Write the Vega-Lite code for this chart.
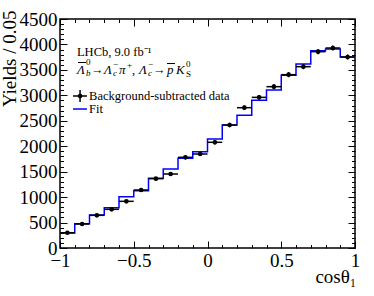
{
  "$schema": "https://vega.github.io/schema/vega-lite/v6.json",
  "width": 295,
  "height": 229,
  "autosize": "none",
  "padding": {"left": 60, "top": 19, "right": 19, "bottom": 48},
  "config": {
    "view": {"stroke": "black", "strokeWidth": 1.5},
    "font": "Liberation Serif",
    "axis": {
      "domain": false, "grid": false, "tickColor": "black", "tickWidth": 1,
      "labelColor": "black", "titleColor": "black",
      "labelFont": "Liberation Serif", "titleFont": "Liberation Serif",
      "labelFontSize": 19, "titleFontSize": 19, "titleFontWeight": "normal",
      "labelFlush": false, "labelOverlap": false
    },
    "text": {"font": "Liberation Serif", "color": "black", "align": "left", "baseline": "alphabetic", "fontSize": 12.5}
  },
  "datasets": {
    "one": [{"k": 1}],
    "bins": [
      {"x": -0.95, "lo": -1.0, "hi": -0.9, "y": 300, "ylo": 285, "yhi": 315},
      {"x": -0.85, "lo": -0.9, "hi": -0.8, "y": 472, "ylo": 452, "yhi": 492},
      {"x": -0.75, "lo": -0.8, "hi": -0.7, "y": 642, "ylo": 617, "yhi": 667},
      {"x": -0.65, "lo": -0.7, "hi": -0.6, "y": 760, "ylo": 735, "yhi": 785},
      {"x": -0.55, "lo": -0.6, "hi": -0.5, "y": 917, "ylo": 887, "yhi": 947},
      {"x": -0.45, "lo": -0.5, "hi": -0.4, "y": 1140, "ylo": 1110, "yhi": 1170},
      {"x": -0.35, "lo": -0.4, "hi": -0.3, "y": 1362, "ylo": 1327, "yhi": 1397},
      {"x": -0.25, "lo": -0.3, "hi": -0.2, "y": 1454, "ylo": 1419, "yhi": 1489},
      {"x": -0.15, "lo": -0.2, "hi": -0.1, "y": 1782, "ylo": 1742, "yhi": 1822},
      {"x": -0.05, "lo": -0.1, "hi": 0.0, "y": 1847, "ylo": 1807, "yhi": 1887},
      {"x": 0.05, "lo": 0.0, "hi": 0.1, "y": 2077, "ylo": 2037, "yhi": 2117},
      {"x": 0.15, "lo": 0.1, "hi": 0.2, "y": 2417, "ylo": 2372, "yhi": 2462},
      {"x": 0.25, "lo": 0.2, "hi": 0.3, "y": 2757, "ylo": 2712, "yhi": 2802},
      {"x": 0.35, "lo": 0.3, "hi": 0.4, "y": 2960, "ylo": 2915, "yhi": 3005},
      {"x": 0.45, "lo": 0.4, "hi": 0.5, "y": 3170, "ylo": 3120, "yhi": 3220},
      {"x": 0.55, "lo": 0.5, "hi": 0.6, "y": 3406, "ylo": 3356, "yhi": 3456},
      {"x": 0.65, "lo": 0.6, "hi": 0.7, "y": 3563, "ylo": 3513, "yhi": 3613},
      {"x": 0.75, "lo": 0.7, "hi": 0.8, "y": 3858, "ylo": 3808, "yhi": 3908},
      {"x": 0.85, "lo": 0.8, "hi": 0.9, "y": 3930, "ylo": 3880, "yhi": 3980},
      {"x": 0.95, "lo": 0.9, "hi": 1.0, "y": 3753, "ylo": 3703, "yhi": 3803}
    ],
    "fit": [
      {"edge": -1.0, "fit": 295}, {"edge": -0.9, "fit": 478}, {"edge": -0.8, "fit": 650},
      {"edge": -0.7, "fit": 793}, {"edge": -0.6, "fit": 1008}, {"edge": -0.5, "fit": 1126},
      {"edge": -0.4, "fit": 1369}, {"edge": -0.3, "fit": 1552}, {"edge": -0.2, "fit": 1762},
      {"edge": -0.1, "fit": 1892}, {"edge": 0.0, "fit": 2142}, {"edge": 0.1, "fit": 2417},
      {"edge": 0.2, "fit": 2607}, {"edge": 0.3, "fit": 2902}, {"edge": 0.4, "fit": 3104},
      {"edge": 0.5, "fit": 3393}, {"edge": 0.6, "fit": 3616}, {"edge": 0.7, "fit": 3877},
      {"edge": 0.8, "fit": 3910}, {"edge": 0.9, "fit": 3753}, {"edge": 1.0, "fit": 3753}
    ]
  },
  "resolve": {"axis": {"x": "independent", "y": "independent"}},
  "layer": [
    {
      "data": {"name": "fit"},
      "mark": {"type": "line", "interpolate": "step-after", "color": "#0000ff", "strokeWidth": 1.5},
      "encoding": {
        "x": {"field": "edge", "type": "quantitative",
              "scale": {"domain": [-1, 1], "nice": false, "zero": false},
              "axis": {"orient": "bottom", "values": [-1, -0.5, 0, 0.5, 1], "format": "~g", "ticks": false,
                       "labelPadding": 3, "title": "cosθ₁", "titleAnchor": "end", "titleAlign": "right",
                       "titleBaseline": "alphabetic", "titleX": 296, "titleY": 34}},
        "y": {"field": "fit", "type": "quantitative",
              "scale": {"domain": [0, 4500], "nice": false},
              "axis": {"orient": "left", "values": [0, 500, 1000, 1500, 2000, 2500, 3000, 3500, 4000, 4500],
                       "format": "d", "ticks": false, "labelPadding": 3, "title": "Yields / 0.05",
                       "titleAngle": 270, "titleAlign": "right", "titleBaseline": "alphabetic",
                       "titleAnchor": "end", "titleX": -45, "titleY": -9}}
      }
    },
    {
      "data": {"name": "bins"},
      "mark": {"type": "rule", "color": "black", "strokeWidth": 1.5},
      "encoding": {
        "x": {"field": "lo", "type": "quantitative",
              "axis": {"orient": "bottom", "values": [-1, -0.5, 0, 0.5, 1], "offset": -7, "tickSize": 7,
                       "labels": false, "title": null}},
        "x2": {"field": "hi"},
        "y": {"field": "y", "type": "quantitative",
              "axis": {"orient": "left", "values": [0, 500, 1000, 1500, 2000, 2500, 3000, 3500, 4000, 4500],
                       "offset": -7, "tickSize": 7, "labels": false, "title": null}}
      }
    },
    {
      "data": {"name": "bins"},
      "mark": {"type": "rule", "color": "black", "strokeWidth": 1.5},
      "encoding": {
        "x": {"field": "x", "type": "quantitative",
              "axis": {"orient": "bottom", "values": [-0.9, -0.8, -0.7, -0.6, -0.4, -0.3, -0.2, -0.1, 0.1, 0.2, 0.3, 0.4, 0.6, 0.7, 0.8, 0.9],
                       "offset": -3.5, "tickSize": 3.5, "labels": false, "title": null}},
        "y": {"field": "ylo", "type": "quantitative",
              "axis": {"orient": "left", "values": [100, 200, 300, 400, 600, 700, 800, 900, 1100, 1200, 1300, 1400, 1600, 1700, 1800, 1900, 2100, 2200, 2300, 2400, 2600, 2700, 2800, 2900, 3100, 3200, 3300, 3400, 3600, 3700, 3800, 3900, 4100, 4200, 4300, 4400],
                       "offset": -3.5, "tickSize": 3.5, "labels": false, "title": null}},
        "y2": {"field": "yhi"}
      }
    },
    {
      "data": {"name": "bins"},
      "mark": {"type": "circle", "color": "black", "opacity": 1, "size": 22},
      "encoding": {
        "x": {"field": "x", "type": "quantitative",
              "axis": {"orient": "top", "values": [-1, -0.5, 0, 0.5, 1], "offset": -7, "tickSize": 7,
                       "labels": false, "title": null}},
        "y": {"field": "y", "type": "quantitative",
              "axis": {"orient": "right", "values": [0, 500, 1000, 1500, 2000, 2500, 3000, 3500, 4000, 4500],
                       "offset": -7, "tickSize": 7, "labels": false, "title": null}}
      }
    },
    {
      "data": {"name": "one"},
      "mark": {"type": "rule", "color": "black", "strokeWidth": 1.5},
      "encoding": {"x": {"datum": -0.912, "type": "quantitative",
                         "axis": {"orient": "top", "values": [-0.9, -0.8, -0.7, -0.6, -0.4, -0.3, -0.2, -0.1, 0.1, 0.2, 0.3, 0.4, 0.6, 0.7, 0.8, 0.9],
                                  "offset": -3.5, "tickSize": 3.5, "labels": false, "title": null}},
                   "x2": {"datum": -0.817},
                   "y": {"datum": 2987, "type": "quantitative",
                         "axis": {"orient": "right", "values": [100, 200, 300, 400, 600, 700, 800, 900, 1100, 1200, 1300, 1400, 1600, 1700, 1800, 1900, 2100, 2200, 2300, 2400, 2600, 2700, 2800, 2900, 3100, 3200, 3300, 3400, 3600, 3700, 3800, 3900, 4100, 4200, 4300, 4400],
                                  "offset": -3.5, "tickSize": 3.5, "labels": false, "title": null}}}
    },
    {
      "data": {"name": "one"},
      "mark": {"type": "rule", "color": "black", "strokeWidth": 1.5},
      "encoding": {"x": {"datum": -0.864, "type": "quantitative", "axis": null},
                   "y": {"datum": 2870, "type": "quantitative", "axis": null}, "y2": {"datum": 3104}}
    },
    {
      "data": {"name": "one"},
      "mark": {"type": "circle", "color": "black", "opacity": 1, "size": 22},
      "encoding": {"x": {"datum": -0.864, "type": "quantitative", "axis": null}, "y": {"datum": 2987, "type": "quantitative", "axis": null}}
    },
    {
      "data": {"name": "one"},
      "mark": {"type": "text", "text": "LHCb, 9.0 fb⁻¹"},
      "encoding": {"x": {"datum": -0.885, "type": "quantitative", "axis": null}, "y": {"datum": 3773, "type": "quantitative", "axis": null}}
    },
    {
      "data": {"name": "one"},
      "mark": {"type": "text", "text": "Λ", "fontStyle": "italic", "fontSize": 13, "dx": 0},
      "encoding": {"x": {"datum": -0.885, "type": "quantitative", "axis": null}, "y": {"datum": 3429, "type": "quantitative", "axis": null}}
    },
    {
      "data": {"name": "one"},
      "mark": {"type": "rule", "color": "black", "strokeWidth": 1},
      "encoding": {"x": {"datum": -0.878, "type": "quantitative", "axis": null}, "x2": {"datum": -0.8237},
                   "y": {"datum": 3645, "type": "quantitative", "axis": null}}
    },
    {
      "data": {"name": "one"},
      "mark": {"type": "text", "text": "0", "fontSize": 9, "dx": 9, "dy": -9},
      "encoding": {"x": {"datum": -0.885, "type": "quantitative", "axis": null}, "y": {"datum": 3429, "type": "quantitative", "axis": null}}
    },
    {
      "data": {"name": "one"},
      "mark": {"type": "text", "text": "b", "fontStyle": "italic", "fontSize": 9, "dx": 9, "dy": 2.5},
      "encoding": {"x": {"datum": -0.885, "type": "quantitative", "axis": null}, "y": {"datum": 3429, "type": "quantitative", "axis": null}}
    },
    {
      "data": {"name": "one"},
      "mark": {"type": "text", "text": "→", "dx": 14},
      "encoding": {"x": {"datum": -0.885, "type": "quantitative", "axis": null}, "y": {"datum": 3429, "type": "quantitative", "axis": null}}
    },
    {
      "data": {"name": "one"},
      "mark": {"type": "text", "text": "Λ", "fontStyle": "italic", "fontSize": 13, "dx": 27},
      "encoding": {"x": {"datum": -0.885, "type": "quantitative", "axis": null}, "y": {"datum": 3429, "type": "quantitative", "axis": null}}
    },
    {
      "data": {"name": "one"},
      "mark": {"type": "text", "text": "−", "fontSize": 9, "dx": 36, "dy": -7},
      "encoding": {"x": {"datum": -0.885, "type": "quantitative", "axis": null}, "y": {"datum": 3429, "type": "quantitative", "axis": null}}
    },
    {
      "data": {"name": "one"},
      "mark": {"type": "text", "text": "c", "fontStyle": "italic", "fontSize": 9, "dx": 36, "dy": 2.5},
      "encoding": {"x": {"datum": -0.885, "type": "quantitative", "axis": null}, "y": {"datum": 3429, "type": "quantitative", "axis": null}}
    },
    {
      "data": {"name": "one"},
      "mark": {"type": "text", "text": "π", "fontStyle": "italic", "fontSize": 13, "dx": 42},
      "encoding": {"x": {"datum": -0.885, "type": "quantitative", "axis": null}, "y": {"datum": 3429, "type": "quantitative", "axis": null}}
    },
    {
      "data": {"name": "one"},
      "mark": {"type": "text", "text": "+", "fontSize": 9, "dx": 50, "dy": -6},
      "encoding": {"x": {"datum": -0.885, "type": "quantitative", "axis": null}, "y": {"datum": 3429, "type": "quantitative", "axis": null}}
    },
    {
      "data": {"name": "one"},
      "mark": {"type": "text", "text": ",", "dx": 55},
      "encoding": {"x": {"datum": -0.885, "type": "quantitative", "axis": null}, "y": {"datum": 3429, "type": "quantitative", "axis": null}}
    },
    {
      "data": {"name": "one"},
      "mark": {"type": "text", "text": "Λ", "fontStyle": "italic", "fontSize": 13, "dx": 62},
      "encoding": {"x": {"datum": -0.885, "type": "quantitative", "axis": null}, "y": {"datum": 3429, "type": "quantitative", "axis": null}}
    },
    {
      "data": {"name": "one"},
      "mark": {"type": "text", "text": "−", "fontSize": 9, "dx": 71, "dy": -7},
      "encoding": {"x": {"datum": -0.885, "type": "quantitative", "axis": null}, "y": {"datum": 3429, "type": "quantitative", "axis": null}}
    },
    {
      "data": {"name": "one"},
      "mark": {"type": "text", "text": "c", "fontStyle": "italic", "fontSize": 9, "dx": 71, "dy": 2.5},
      "encoding": {"x": {"datum": -0.885, "type": "quantitative", "axis": null}, "y": {"datum": 3429, "type": "quantitative", "axis": null}}
    },
    {
      "data": {"name": "one"},
      "mark": {"type": "text", "text": "→", "dx": 76},
      "encoding": {"x": {"datum": -0.885, "type": "quantitative", "axis": null}, "y": {"datum": 3429, "type": "quantitative", "axis": null}}
    },
    {
      "data": {"name": "one"},
      "mark": {"type": "text", "text": "p", "fontStyle": "italic", "fontSize": 13, "dx": 90},
      "encoding": {"x": {"datum": -0.885, "type": "quantitative", "axis": null}, "y": {"datum": 3429, "type": "quantitative", "axis": null}}
    },
    {
      "data": {"name": "one"},
      "mark": {"type": "rule", "color": "black", "strokeWidth": 1},
      "encoding": {"x": {"datum": -0.2746, "type": "quantitative", "axis": null}, "x2": {"datum": -0.2203},
                   "y": {"datum": 3625, "type": "quantitative", "axis": null}}
    },
    {
      "data": {"name": "one"},
      "mark": {"type": "text", "text": "K", "fontStyle": "italic", "fontSize": 13, "dx": 99},
      "encoding": {"x": {"datum": -0.885, "type": "quantitative", "axis": null}, "y": {"datum": 3429, "type": "quantitative", "axis": null}}
    },
    {
      "data": {"name": "one"},
      "mark": {"type": "text", "text": "0", "fontSize": 9, "dx": 109, "dy": -7},
      "encoding": {"x": {"datum": -0.885, "type": "quantitative", "axis": null}, "y": {"datum": 3429, "type": "quantitative", "axis": null}}
    },
    {
      "data": {"name": "one"},
      "mark": {"type": "text", "text": "S", "fontSize": 9, "dx": 109, "dy": 3},
      "encoding": {"x": {"datum": -0.885, "type": "quantitative", "axis": null}, "y": {"datum": 3429, "type": "quantitative", "axis": null}}
    },
    {
      "data": {"name": "one"},
      "mark": {"type": "text", "text": "Background-subtracted data"},
      "encoding": {"x": {"datum": -0.803, "type": "quantitative", "axis": null}, "y": {"datum": 2909, "type": "quantitative", "axis": null}}
    },
    {
      "data": {"name": "one"},
      "mark": {"type": "rule", "color": "#0000ff", "strokeWidth": 1.5},
      "encoding": {"x": {"datum": -0.912, "type": "quantitative", "axis": null}, "x2": {"datum": -0.817},
                   "y": {"datum": 2731, "type": "quantitative", "axis": null}}
    },
    {
      "data": {"name": "one"},
      "mark": {"type": "text", "text": "Fit"},
      "encoding": {"x": {"datum": -0.803, "type": "quantitative", "axis": null}, "y": {"datum": 2653, "type": "quantitative", "axis": null}}
    }
  ]
}
